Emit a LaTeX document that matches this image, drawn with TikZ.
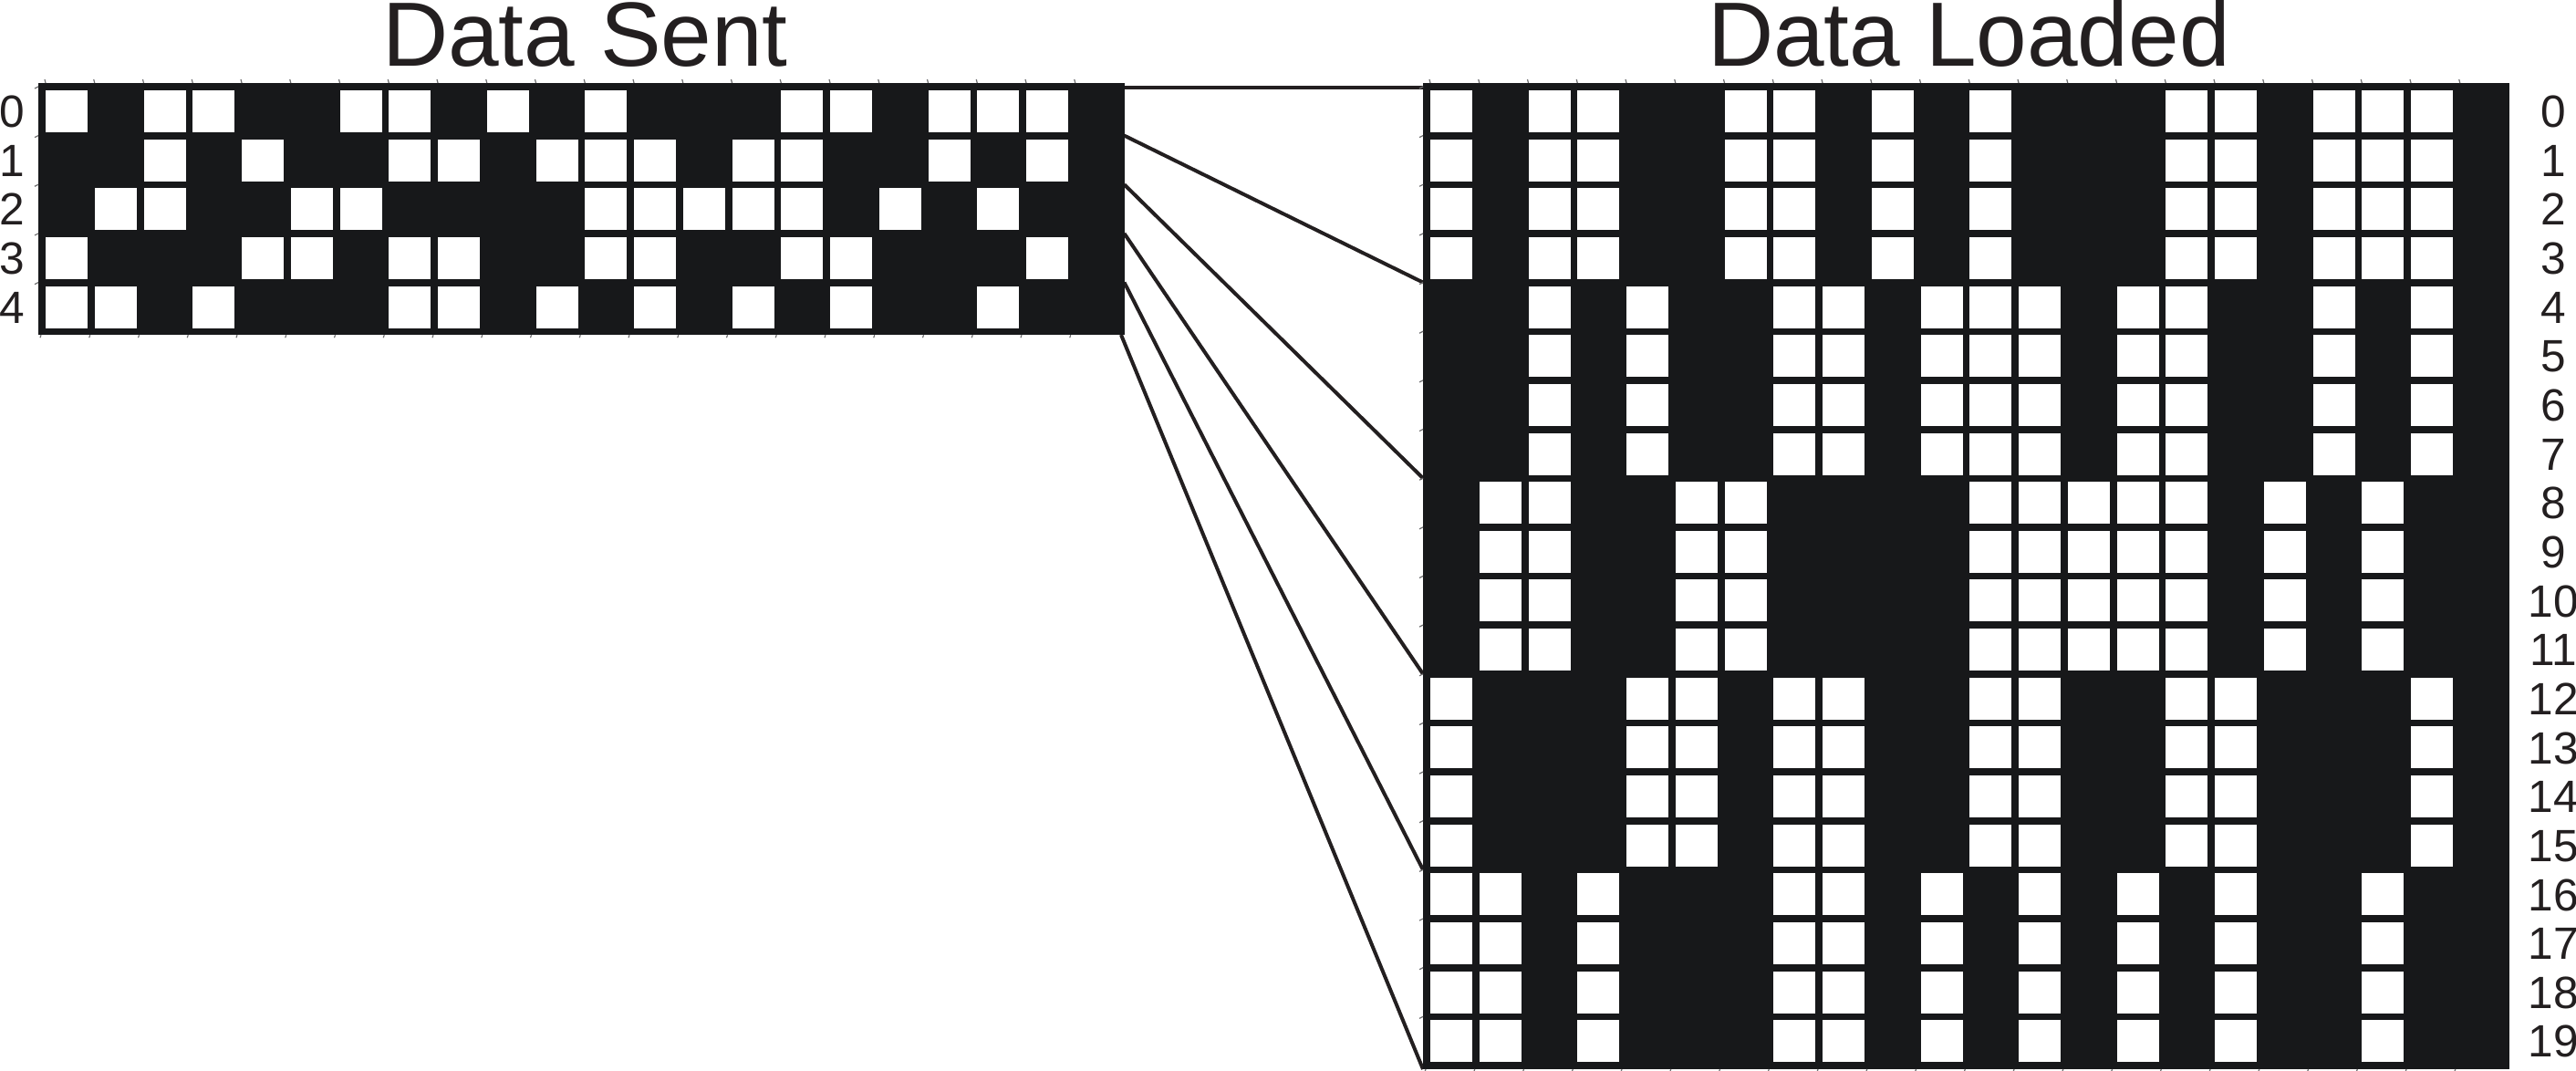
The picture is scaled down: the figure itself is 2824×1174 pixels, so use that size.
\documentclass[tikz,border=0pt]{standalone}
\usepackage{fontspec}
\setmainfont{Liberation Sans}
\definecolor{gridblk}{RGB}{23,24,26}
\definecolor{inkc}{RGB}{35,31,32}
\definecolor{tickc}{RGB}{110,110,112}
\tikzset{
  titletext/.style={font=\fontsize{25pt}{30pt}\selectfont, text=inkc, inner sep=0pt, anchor=base},
  rowlbl/.style={font=\fontsize{12.4pt}{15pt}\selectfont, text=inkc, inner sep=0pt, anchor=base},
  link/.style={draw=inkc, line width=1pt},
  gridbox/.style={fill=gridblk, draw=none, rectangle, inner sep=0pt, outer sep=0pt, anchor=north west},
  cellw/.style={fill=white, draw=none},
  tickmark/.style={draw=tickc, line width=0.3pt},
}
\begin{document}
\begin{tikzpicture}[x=0.25pt,y=-0.25pt]
\useasboundingbox (0,0) rectangle (2824,1174);

% connector end points
\coordinate (s0) at (1232.5,96);
\coordinate (s1) at (1232.5,148.65);
\coordinate (s2) at (1232.5,202.3);
\coordinate (s3) at (1232.5,255.95);
\coordinate (s4) at (1232.5,309.6);
\coordinate (s5) at (1229,367);
\coordinate (d0) at (1560,96);
\coordinate (d1) at (1560,309.6);
\coordinate (d2) at (1560,524.2);
\coordinate (d3) at (1560,738.8);
\coordinate (d4) at (1560,953.4);
\coordinate (d5) at (1560,1172);

% connectors
\foreach \i in {0,...,5} { \draw[link] (s\i) -- (d\i); }

% grids
\node[gridbox, minimum width=297.625pt, minimum height=69.0625pt] (sent) at (42,91) {};
\node[gridbox, minimum width=297.625pt, minimum height=270.25pt] (loaded) at (1560,91) {};

% white cells
\foreach \rr/\cellcols in {
  0/{0,2,3,6,7,9,11,15,16,18,19,20},
  1/{2,4,7,8,10,11,12,14,15,18,20},
  2/{1,2,5,6,11,12,13,14,15,17,19},
  3/{0,4,5,7,8,11,12,15,16,20},
  4/{0,1,3,7,8,10,12,14,16,19}} {
  \foreach \cc in \cellcols {
    \fill[cellw] (50+\cc*53.75, 99+\rr*53.65) rectangle ++(46,46);
    \foreach \kk in {0,1,2,3} {
      \fill[cellw] (1568+\cc*53.75, 99+4*\rr*53.65+\kk*53.65) rectangle ++(46,46);
    }
  }
}

% small ticks on the grid edges
\foreach \gx/\gy/\gh/\nr in {42/91/276.25/4, 1560/91/1081/19} {
  \foreach \cc in {0,...,21} {
    \draw[tickmark] (\gx+7+\cc*53.75, \gy-4) -- (\gx+8+\cc*53.75, \gy);
    \draw[tickmark] (\gx+3+\cc*53.75, \gy+\gh) -- (\gx+2+\cc*53.75, \gy+\gh+3);
  }
  \foreach \rr in {0,...,\nr} {
    \draw[tickmark] (\gx-4, \gy+6+\rr*53.65) -- (\gx, \gy+4+\rr*53.65);
  }
}

% titles
\node[titletext] (tsent) at (641.5,73) {Data Sent};
\node[titletext] (tloaded) at (2158.5,73) {Data Loaded};

% row labels
\foreach \rr in {0,...,4} {
  \node[rowlbl] (ls\rr) at (13, 121.8+17.8+\rr*53.65) {\rr};
}
\foreach \rr in {0,...,19} {
  \node[rowlbl] (lr\rr) at (2799, 121.8+17.8+\rr*53.65) {\rr};
}
\end{tikzpicture}
\end{document}
